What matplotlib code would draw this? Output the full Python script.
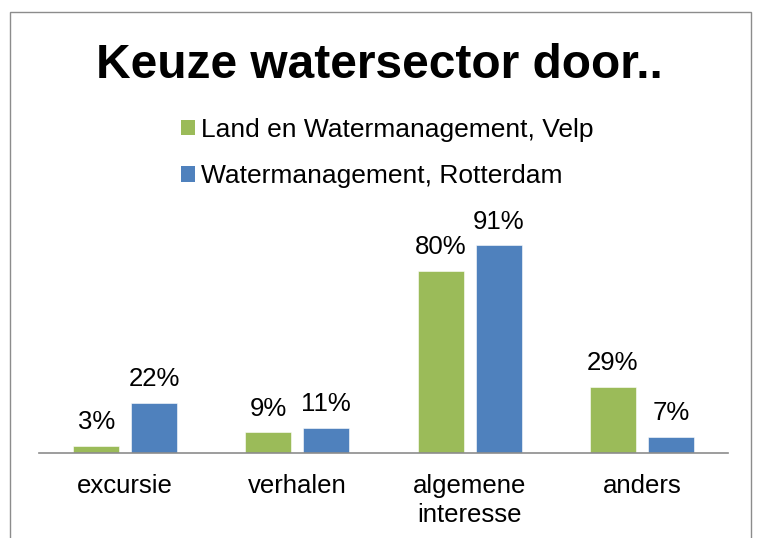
import matplotlib
matplotlib.use("Agg")
import matplotlib.pyplot as plt
from matplotlib.patches import Rectangle, Patch

plt.rcParams['font.family'] = ['Liberation Sans', 'DejaVu Sans']

# data
categories = ['excursie', 'verhalen', 'algemene\ninteresse', 'anders']
series_names = ['Land en Watermanagement, Velp', 'Watermanagement, Rotterdam']
velp = [3, 9, 80, 29]
rotterdam = [22, 11, 91, 7]
colors = ['#9BBB59', '#4F81BD']

fig = plt.figure(figsize=(7.58, 5.38), dpi=100)
ax = fig.add_axes([0.0515, 0.158, 0.909, 0.424])

# chart border
fig.patches.append(Rectangle((10 / 758, -0.05), 741 / 758, 1.05 - 12 / 538,
                             transform=fig.transFigure, fill=False,
                             edgecolor='#8c8c8c', linewidth=1.0))

width = 0.267
offset = 0.168
x = list(range(len(categories)))
for vals, col, sign in [(velp, colors[0], -1), (rotterdam, colors[1], 1)]:
    pos = [i + sign * offset for i in x]
    bars = ax.bar(pos, vals, width=width, color=col, edgecolor='white', linewidth=0.4)
    for b, v in zip(bars, vals):
        ax.annotate(f"{v}%", (b.get_x() + b.get_width() / 2, b.get_height()),
                    xytext=(0, 12), textcoords='offset points',
                    ha='center', va='baseline', fontsize=18.5)

ax.set_xlim(-0.5, 3.5)
ax.set_ylim(0, 100)
ax.set_xticks(x)
ax.set_xticklabels(categories, fontsize=18.5, linespacing=1.25)
ax.tick_params(axis='x', length=0, pad=15)
ax.set_yticks([])
for s in ['top', 'right', 'left']:
    ax.spines[s].set_visible(False)
ax.spines['bottom'].set_color('#8c8c8c')
ax.spines['bottom'].set_linewidth(1.2)

fig.text(0.5, 1 - 78 / 538, 'Keuze watersector door..', ha='center', va='baseline',
         fontsize=34.5, fontweight='bold')

handles = [Patch(facecolor=c, edgecolor='none') for c in colors]
ax.legend(handles, series_names, loc='upper left',
          bbox_to_anchor=(181 / 758, 1 - 118 / 538), bbox_transform=fig.transFigure,
          frameon=False, fontsize=19, handlelength=0.52, handleheight=0.52,
          handletextpad=0.25, labelspacing=0.85, borderpad=0, borderaxespad=0)

fig.savefig('out.png', dpi=100)
